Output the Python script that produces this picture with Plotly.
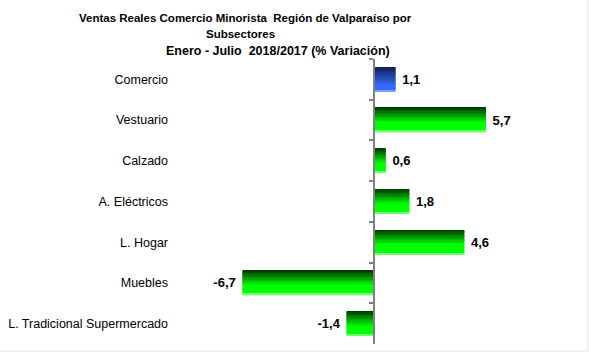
import plotly.graph_objects as go

categories = ["Comercio", "Vestuario", "Calzado", "A. Eléctricos", "L. Hogar", "Muebles",
              "L. Tradicional Supermercado"]
values = [1.1, 5.7, 0.6, 1.8, 4.6, -6.7, -1.4]
title_lines = ["Ventas Reales Comercio Minorista  Región de Valparaíso por",
               "Subsectores",
               "Enero - Julio  2018/2017 (% Variación)"]

W, H = 589, 353
ML, MR, MT, MB = 175, 29, 59, 9
XMIN, XMAX = -10.13, 9.47
BAR_W = 0.6
N = 18


def lerp(a, b, t):
    return tuple(int(round(a[i] + (b[i] - a[i]) * t)) for i in range(3))


def grad(kind, t):
    if kind == "blue":
        top, bot = (14, 28, 78), (52, 104, 250)
        c = lerp(top, bot, min(t / 0.75, 1))
    else:
        top, bot = (0, 50, 0), (0, 255, 0)
        c = lerp(top, bot, min(t / 0.62, 1))
    return "rgb(%d,%d,%d)" % c


kinds = ["blue"] + ["green"] * (len(values) - 1)

fig = go.Figure()
# transparent carrier for value labels
fig.add_trace(go.Bar(
    y=categories, x=values, orientation="h", width=BAR_W,
    marker=dict(color="rgba(0,0,0,0)", line=dict(width=0)),
    text=[("\u00a0%s" % f"{v:.1f}".replace(".", ",")) if v >= 0
          else ("%s\u00a0" % f"{v:.1f}".replace(".", ",")) for v in values],
    texttemplate="%{text}", textposition="outside", constraintext="none",
    textfont=dict(family="Arial", size=13, color="black", weight="bold"),
    cliponaxis=False, hoverinfo="skip", showlegend=False,
))
sw = BAR_W / N
for i in range(N):
    t = (i + 0.5) / N
    cols = [grad(k, t) for k in kinds]
    if i == N - 1:
        cols = ["rgb(120,160,255)" if k == "blue" else "rgb(110,255,110)" for k in kinds]
    fig.add_trace(go.Bar(
        y=categories, x=values, orientation="h",
        width=sw * 1.15, offset=-BAR_W / 2 + i * sw,
        marker=dict(color=cols, line=dict(width=0)),
        hoverinfo="skip", showlegend=False,
    ))

# dummy for second axis (zero line with ticks)
fig.add_trace(go.Scatter(y=categories, x=[0] * len(categories), yaxis="y2",
                         mode="markers", marker=dict(opacity=0), hoverinfo="skip",
                         showlegend=False))

zero_frac = (0 - XMIN) / (XMAX - XMIN)

fig.update_layout(
    width=W, height=H, margin=dict(l=ML, r=MR, t=MT, b=MB),
    paper_bgcolor="white", plot_bgcolor="white",
    barmode="overlay", separators=",.",
    showlegend=False,
    xaxis=dict(range=[XMIN, XMAX], visible=False, fixedrange=True),
    yaxis=dict(type="category", categoryorder="array", categoryarray=categories,
               range=[6.5, -0.5], showline=False, ticks="", showgrid=False,
               tickfont=dict(family="Arial", size=12.5, color="black"),
               ticklabelstandoff=6),
    yaxis2=dict(type="category", categoryorder="array", categoryarray=categories,
                range=[6.5, -0.5], overlaying="y", anchor="free", position=zero_frac,
                side="left", showline=True, linecolor="#808080", linewidth=1.5,
                ticks="outside", tickson="boundaries", ticklen=4, tickcolor="#808080",
                tickwidth=1.5, showticklabels=False, showgrid=False),
)

pw, ph = W - ML - MR, H - MT - MB
# title lines
title_pos = [(77, 18, "left", 11.5), (240, 34, "center", 11.5), (278, 51, "center", 12.5)]
for txt, (px, py, anc, fs) in zip(title_lines, title_pos):
    fig.add_annotation(text=txt, xref="paper", yref="paper",
                       x=(px - ML) / pw, y=(H - MB - py) / ph,
                       xanchor=anc, yanchor="middle", showarrow=False,
                       font=dict(family="Arial", size=fs, color="black", weight="bold"))

# faint outer frame (right and bottom)
fig.add_shape(type="line", xref="paper", yref="paper",
              x0=(588 - ML) / pw, x1=(588 - ML) / pw, y0=(H - MB - 0) / ph, y1=(H - MB - 351) / ph,
              line=dict(color="#e2e2e2", width=1))
fig.add_shape(type="line", xref="paper", yref="paper",
              x0=(0 - ML) / pw, x1=(588 - ML) / pw, y0=(H - MB - 351) / ph, y1=(H - MB - 351) / ph,
              line=dict(color="#e2e2e2", width=1))

fig.write_html("out.html")
